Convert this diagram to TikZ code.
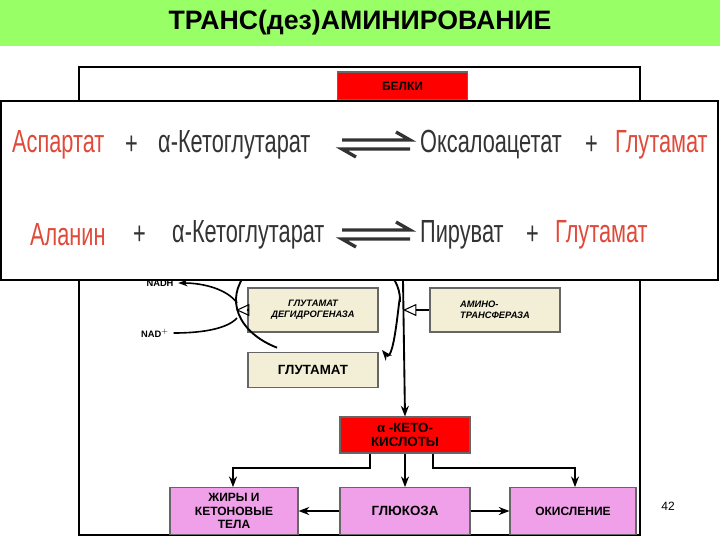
\documentclass[tikz,border=0pt]{standalone}
\usepackage{fontspec}
\setmainfont{Liberation Sans}
\usetikzlibrary{arrows.meta}
\definecolor{tgreen}{HTML}{99FF66}
\definecolor{beige}{HTML}{F2EFD6}
\definecolor{pinkb}{HTML}{F0A0E8}
\definecolor{redt}{HTML}{E04A3A}
\definecolor{grayt}{HTML}{333333}
\tikzset{
 bx/.style={draw=black!60,line width=0.8pt,inner sep=0pt,font=\bfseries\fontsize{9}{10}\selectfont,align=center},
 beigebox/.style={bx,fill=beige},
 pinkbox/.style={bx,fill=pinkb},
 redbox/.style={bx,fill=red},
 conn/.style={line width=1.4pt,-{Stealth[length=8pt,width=6pt]}},
 hollow/.style={line width=0.8pt,-{Triangle[open,length=10pt,width=9pt]}},
 eq/.style={font=\fontsize{24}{24}\selectfont,xscale=0.68,anchor=west,inner sep=0pt},
}
\begin{document}
\begin{tikzpicture}[x=0.75pt,y=-0.75pt]
\useasboundingbox (0,0) rectangle (720,540);
\fill[white] (0,0) rectangle (720,540);
% title
\fill[tgreen] (0,0) rectangle (720,46);
\node (title) at (360,23) {\bfseries\fontsize{20}{22}\selectfont ТРАНС(дез)АМИНИРОВАНИЕ};
% diagram frame
\draw[line width=2.2pt] (79,67) rectangle (640,535);
\node[redbox,minimum width=97.5pt,minimum height=21pt] (belki) at (402.5,86) {БЕЛКИ};
% lower diagram
\node[beigebox,minimum width=97.5pt,minimum height=33pt,font=\bfseries\itshape\fontsize{7}{8}\selectfont] (gdh) at (313,310) {ГЛУТАМАТ\\ДЕГИДРОГЕНАЗА};
\node[beigebox,minimum width=97.5pt,minimum height=33pt,font=\bfseries\itshape\fontsize{7}{8}\selectfont,align=left] (amt) at (495,310) {АМИНО-\\ТРАНСФЕРАЗА};
\node[beigebox,minimum width=97.5pt,minimum height=26pt,font=\bfseries\fontsize{10}{11}\selectfont] (glu) at (313,370) {ГЛУТАМАТ};
\node[redbox,minimum width=97.5pt,minimum height=27pt,font=\bfseries\fontsize{10}{11}\selectfont] (keto) at (405,435) {α -КЕТО-\\КИСЛОТЫ};
\node[pinkbox,minimum width=96pt,minimum height=35pt] (fat) at (234,511) {ЖИРЫ И\\КЕТОНОВЫЕ\\ТЕЛА};
\node[pinkbox,minimum width=97.5pt,minimum height=35pt,font=\bfseries\fontsize{10}{11}\selectfont] (gluc) at (405,511) {ГЛЮКОЗА};
\node[pinkbox,minimum width=94.5pt,minimum height=35pt] (oxi) at (573,511) {ОКИСЛЕНИЕ};
\node[font=\bfseries\fontsize{7}{8}\selectfont] (nadh) at (160,283) {NADH};
\node[font=\bfseries\fontsize{7}{8}\selectfont] (nad) at (155,333) {NAD$^{+}$};
\coordinate (vtop) at (403,280);
\coordinate (vmid) at (403,310);
\coordinate (cl) at (236,310);
\coordinate (cla) at (237,303);
\coordinate (clb) at (237,318);
% cycle
\draw[line width=1.4pt] (318,300) ++(120:82 and 55) arc[start angle=120,end angle=362,x radius=82,y radius=55];
\draw[line width=1.4pt,-{Stealth[length=8pt,width=6pt]}] (400,302) to[out=90,in=-50] (382,350);
\draw[line width=1.2pt,-{Stealth[length=7pt,width=5pt]}] (cla) .. controls (228,290) and (205,283) .. (nadh.east);
\draw[line width=1.2pt] (nad.east) .. controls (205,333) and (228,328) .. (clb);
\draw[hollow] (gdh.west) -- (cl);
\draw[hollow] (amt.west) -- (vmid);
\draw[conn] (vtop) -- (keto.north);
% bottom connectors
\draw[conn] (keto.south -| 370,0) |- (233,468) -- (fat.north -| 233,0);
\draw[conn] (keto.south) -- (gluc.north);
\draw[conn] (keto.south -| 433,0) |- (575,468) -- (oxi.north -| 575,0);
\draw[conn] (gluc.west) -- (fat.east);
\draw[conn] (gluc.east) -- (oxi.west);
\node[font=\fontsize{9}{10}\selectfont] (pg) at (668,506) {42};
% overlay equations
\draw[line width=2pt,fill=white] (1,101) rectangle (718,280);
\node[eq,text=redt] (asp) at (12,145) {Аспартат};
\node[eq,text=grayt] (p1) at (125,145) {+};
\node[eq,text=grayt] (k1) at (158,145) {α-Кетоглутарат};
\node[eq,text=grayt] (oxa) at (420,145) {Оксалоацетат};
\node[eq,text=grayt] (p2) at (585,145) {+};
\node[eq,text=redt] (g1) at (615,145) {Глутамат};
\node[eq,text=redt] (ala) at (30,235) {Аланин};
\node[eq,text=grayt] (p3) at (133,235) {+};
\node[eq,text=grayt] (k2) at (172,235) {α-Кетоглутарат};
\node[eq,text=grayt] (pir) at (420,235) {Пируват};
\node[eq,text=grayt] (p4) at (526,235) {+};
\node[eq,text=redt] (g2) at (555,235) {Глутамат};
\foreach \y in {145,235}{
 \draw[grayt,line width=2.5pt] (342,\y-5) -- (410,\y-5) -- (396,\y-13);
 \draw[grayt,line width=2.5pt] (410,\y+4) -- (342,\y+4) -- (356,\y+12);
}
\end{tikzpicture}
\end{document}
